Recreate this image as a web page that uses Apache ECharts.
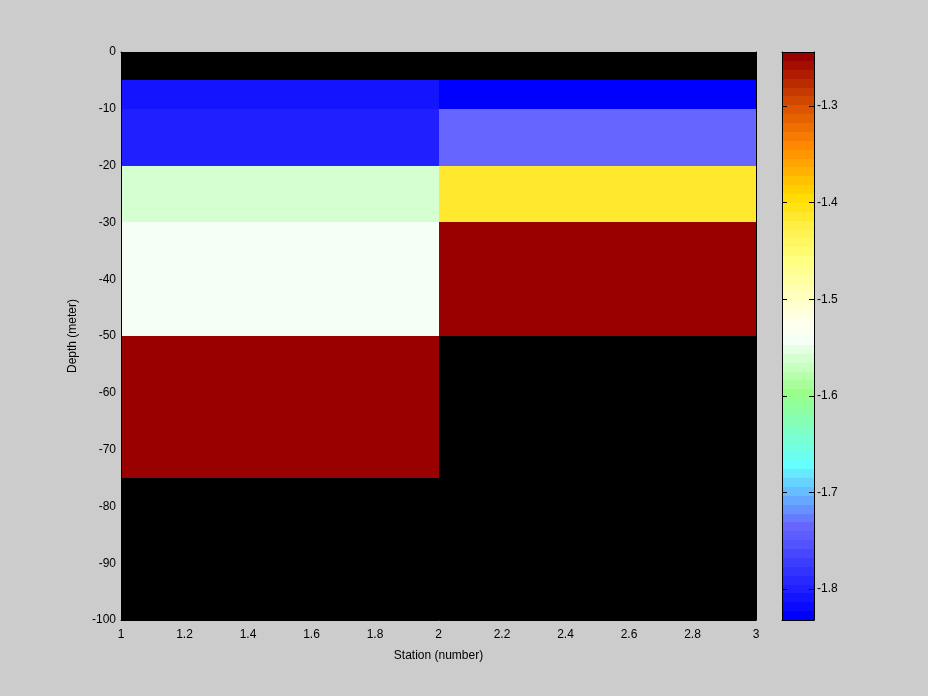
<!DOCTYPE html>
<html><head><meta charset="utf-8">
<script src="https://cdn.jsdelivr.net/npm/echarts@6/dist/echarts.min.js"></script>
<style>html,body{margin:0;padding:0;background:#cccccc}#c{width:928px;height:696px}</style>
</head><body><div id="c"></div>
<script>
// ---- data ----
const stationEdges = [1, 2, 3];
const depthEdges = [0, -5, -10, -20, -30, -50, -75, -100];
const station1Values = [null, -1.812, -1.801, -1.558, -1.543, -1.246, null];
const station2Values = [null, -1.832, -1.735, -1.414, -1.244, null, null];
const colorLimits = [-1.832, -1.244];
const colorbarTicks = [-1.8, -1.7, -1.6, -1.5, -1.4, -1.3];
const xLabel = 'Station (number)';
const yLabel = 'Depth (meter)';
// colormap anchors (band index, colour)
const colormapAnchors = [[0,'#0000ff'],[10,'#6666ff'],[17,'#66ffff'],[25,'#99ff88'],[31,'#f5fff5'],[33,'#ffffee'],[40,'#ffff80'],[44,'#ffee44'],[47,'#ffdd00'],[53,'#ff8800'],[57,'#dd5500'],[63,'#990000']];
const nBands = 64;

// ---- build colormap ----
function hex2rgb(h){return [parseInt(h.slice(1,3),16),parseInt(h.slice(3,5),16),parseInt(h.slice(5,7),16)];}
function rgb2hex(c){return '#'+c.map(v=>Math.round(v).toString(16).padStart(2,'0')).join('');}
const colormap = [];
for (let k = 0; k < nBands; k++) {
  let i = 0;
  while (i < colormapAnchors.length - 2 && colormapAnchors[i+1][0] <= k) i++;
  const [k0, c0] = colormapAnchors[i], [k1, c1] = colormapAnchors[i+1];
  const t = Math.min(1, Math.max(0, (k - k0) / (k1 - k0)));
  const a = hex2rgb(c0), b = hex2rgb(c1);
  colormap.push(rgb2hex(a.map((v, j) => v + (b[j] - v) * t)));
}
const cmin = colorLimits[0], cmax = colorLimits[1];
const step = (cmax - cmin) / nBands;
const pieces = colormap.map((c, k) => k === nBands - 1
  ? { gte: cmin + k * step, lte: cmax + 1e-9, color: c }
  : { gte: cmin + k * step, lt: cmin + (k + 1) * step, color: c });

const cellData = [];
[station1Values, station2Values].forEach((col, j) => {
  col.forEach((v, i) => {
    if (v === null) return;
    cellData.push([stationEdges[j], depthEdges[i], stationEdges[j+1], depthEdges[i+1], v]);
  });
});
const barData = colormap.map((c, k) => [0, cmin + k * step, 1, cmin + (k + 1) * step, cmin + (k + 0.5) * step]);

const FONT = '"Liberation Sans", Arial, sans-serif';
const FS = 12;
const black = { color: '#000', width: 1 };
const AZ = 10;

function renderRect(params, api) {
  const p0 = api.coord([api.value(0), api.value(1)]);
  const p1 = api.coord([api.value(2), api.value(3)]);
  const x0 = Math.round(Math.min(p0[0], p1[0])), x1 = Math.round(Math.max(p0[0], p1[0]));
  const y0 = Math.round(Math.min(p0[1], p1[1])), y1 = Math.round(Math.max(p0[1], p1[1]));
  return { type: 'rect',
    shape: { x: x0, y: y0, width: x1 - x0, height: y1 - y0 },
    style: { fill: api.visual('color'), stroke: null } };
}

const chart = echarts.init(document.getElementById('c'), null, { renderer: 'canvas' });
chart.setOption({
  animation: false,
  backgroundColor: '#cccccc',
  textStyle: { fontFamily: FONT, fontSize: FS, color: '#000' },
  grid: [
    { left: 121, top: 52, width: 635, height: 568, show: true, backgroundColor: '#000', borderWidth: 0 },
    { left: 782, top: 52, width: 32, height: 568, show: false }
  ],
  visualMap: { type: 'piecewise', show: false, dimension: 4, seriesIndex: [0, 1], pieces: pieces, outOfRange: { color: '#000' } },
  xAxis: [
    { gridIndex: 0, type: 'value', min: 1, max: 3, interval: 0.2, position: 'bottom', z: AZ,
      axisLine: { show: true, onZero: false, lineStyle: black },
      axisTick: { show: false },
      axisLabel: { color: '#000', fontFamily: FONT, fontSize: FS, margin: 9, formatter: v => String(Math.round(v * 10) / 10) },
      splitLine: { show: false },
      name: xLabel, nameLocation: 'middle', nameGap: 30, nameTextStyle: { fontFamily: FONT, fontSize: FS, color: '#000' } },
    { gridIndex: 0, type: 'value', min: 1, max: 3, interval: 0.2, position: 'top', z: AZ,
      axisLine: { show: true, onZero: false, lineStyle: black },
      axisTick: { show: false },
      axisLabel: { show: false }, splitLine: { show: false } },
    { gridIndex: 1, type: 'value', min: 0, max: 1, position: 'bottom', z: AZ,
      axisLine: { show: true, onZero: false, lineStyle: black }, axisTick: { show: false }, axisLabel: { show: false }, splitLine: { show: false } },
    { gridIndex: 1, type: 'value', min: 0, max: 1, position: 'top', z: AZ,
      axisLine: { show: true, onZero: false, lineStyle: black }, axisTick: { show: false }, axisLabel: { show: false }, splitLine: { show: false } }
  ],
  yAxis: [
    { gridIndex: 0, type: 'value', min: -100, max: 0, interval: 10, position: 'left', z: AZ,
      axisLine: { show: true, onZero: false, lineStyle: black },
      axisTick: { show: false },
      axisLabel: { color: '#000', fontFamily: FONT, fontSize: FS, margin: 5 },
      splitLine: { show: false },
      name: yLabel, nameLocation: 'middle', nameGap: 42, nameRotate: 90, nameTextStyle: { fontFamily: FONT, fontSize: FS, color: '#000' } },
    { gridIndex: 0, type: 'value', min: -100, max: 0, interval: 10, position: 'right', z: AZ,
      axisLine: { show: true, onZero: false, lineStyle: black },
      axisTick: { show: false },
      axisLabel: { show: false }, splitLine: { show: false } },
    { gridIndex: 1, type: 'value', min: cmin, max: cmax, position: 'left', z: AZ,
      axisLine: { show: true, onZero: false, lineStyle: black },
      axisTick: { show: true, inside: true, length: 5, lineStyle: black, customValues: colorbarTicks },
      axisLabel: { show: false }, splitLine: { show: false } },
    { gridIndex: 1, type: 'value', min: cmin, max: cmax, position: 'right', z: AZ,
      axisLine: { show: true, onZero: false, lineStyle: black },
      axisTick: { show: true, inside: true, length: 5, lineStyle: black, customValues: colorbarTicks },
      axisLabel: { show: true, color: '#000', fontFamily: FONT, fontSize: FS, margin: 3, customValues: colorbarTicks, formatter: v => v.toFixed(1) },
      splitLine: { show: false } }
  ],
  series: [
    { type: 'custom', xAxisIndex: 0, yAxisIndex: 0, renderItem: renderRect, data: cellData,
      encode: { x: [0, 2], y: [1, 3] }, dimensions: ['x0', 'y0', 'x1', 'y1', 'value'], clip: true, z: 1 },
    { type: 'custom', xAxisIndex: 2, yAxisIndex: 2, renderItem: renderRect, data: barData,
      encode: { x: [0, 2], y: [1, 3] }, dimensions: ['x0', 'y0', 'x1', 'y1', 'value'], z: 1 }
  ]
});
</script></body></html>
